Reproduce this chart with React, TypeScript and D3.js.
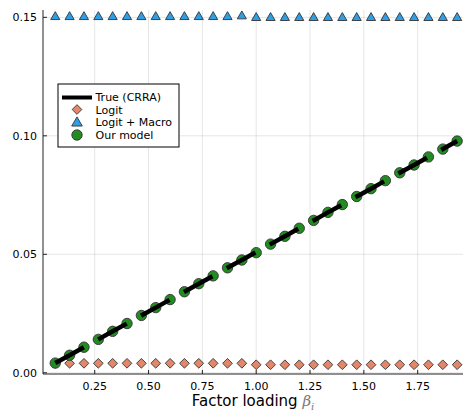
import React from 'react';
import * as d3 from 'd3';

// factor loadings beta_i = k/15, k = 1..29
const betas = [
  0.0667, 0.1333, 0.2, 0.2667, 0.3333, 0.4, 0.4667, 0.5333, 0.6, 0.6667,
  0.7333, 0.8, 0.8667, 0.9333, 1.0, 1.0667, 1.1333, 1.2, 1.2667, 1.3333,
  1.4, 1.4667, 1.5333, 1.6, 1.6667, 1.7333, 1.8, 1.8667, 1.9333,
];

const trueCrra = [
  0.0041, 0.0074, 0.0108, 0.0141, 0.0175, 0.0208, 0.0242, 0.0275, 0.0309, 0.0342,
  0.0376, 0.0409, 0.0443, 0.0476, 0.0509, 0.0543, 0.0576, 0.061, 0.0643, 0.0677,
  0.071, 0.0744, 0.0777, 0.0811, 0.0844, 0.0877, 0.0911, 0.0944, 0.0978,
];

const logit = [
  0.004, 0.004, 0.004, 0.004, 0.004, 0.004, 0.004, 0.004, 0.004, 0.004,
  0.004, 0.004, 0.004, 0.004, 0.0034, 0.0034, 0.0034, 0.0034, 0.0034, 0.0034,
  0.0034, 0.0034, 0.0034, 0.0034, 0.0034, 0.0034, 0.0034, 0.0034, 0.0034,
];

const logitMacro = [
  0.1506, 0.1506, 0.1506, 0.1506, 0.1506, 0.1506, 0.1506, 0.1506, 0.1506, 0.1506,
  0.1506, 0.1506, 0.1506, 0.1509, 0.1502, 0.1502, 0.1502, 0.1502, 0.1502, 0.1502,
  0.1502, 0.1502, 0.1502, 0.1502, 0.1502, 0.1502, 0.1502, 0.1502, 0.1502,
];

const ourModel = [
  0.0041, 0.0074, 0.0108, 0.0141, 0.0175, 0.0208, 0.0242, 0.0275, 0.0309, 0.0342,
  0.0376, 0.0409, 0.0443, 0.0476, 0.0507, 0.0543, 0.0576, 0.061, 0.0643, 0.0677,
  0.071, 0.0744, 0.0777, 0.0811, 0.0844, 0.0877, 0.0911, 0.0944, 0.0978,
];

const xTicks = [0.25, 0.5, 0.75, 1.0, 1.25, 1.5, 1.75];
const yTicks = [0.0, 0.05, 0.1, 0.15];
const legendLabels = ['True (CRRA)', 'Logit', 'Logit + Macro', 'Our model'];

const W = 465;
const H = 412;
const FONT = 'DejaVu Sans, sans-serif';
const C_LOGIT = '#E3876A';
const C_MACRO = '#2E9FE6';
const C_OURS = '#228B22';
const C_EDGE = '#333';

const x = d3.scaleLinear().domain([0.00975, 1.9605]).range([43, 463]);
const y = d3.scaleLinear().domain([-0.00051, 0.1531]).range([374, 10]);

const diamond = d3.symbol(d3.symbolDiamond2, 60)();
const triangle = d3.symbol(d3.symbolTriangle2, 60)();

const App = () => {
  const line = d3.line<number>()
    .x((_, i) => x(betas[i]))
    .y(d => y(d));

  // one step between neighbouring points, along the line
  const seg = Math.hypot(x(betas[1]) - x(betas[0]), y(trueCrra[1]) - y(trueCrra[0]));

  const [x0, x1] = x.range();
  const [yb, yt] = y.range();

  return (
    <svg width={W} height={H} style={{position: 'absolute', left: 0, top: 0}} fontFamily={FONT}>
      <rect width={W} height={H} fill="#fff"/>
      {/* grid */}
      <g stroke="#000" strokeOpacity={0.1} strokeWidth={1}>
        {xTicks.map(t => <line key={t} x1={x(t)} x2={x(t)} y1={yb} y2={yt}/>)}
        {yTicks.map(t => <line key={t} x1={x0} x2={x1} y1={y(t)} y2={y(t)}/>)}
      </g>
      {/* axes */}
      <g stroke="#222" strokeWidth={1}>
        <line x1={x0} x2={x1} y1={yb} y2={yb}/>
        <line x1={x0} x2={x0} y1={yb} y2={yt}/>
        {xTicks.map(t => <line key={t} x1={x(t)} x2={x(t)} y1={yb} y2={yb - 4}/>)}
        {yTicks.map(t => <line key={t} x1={x0} x2={x0 + 4} y1={y(t)} y2={y(t)}/>)}
      </g>
      <g fontSize={11} fill="#000">
        {xTicks.map(t => (
          <text key={t} x={x(t)} y={yb + 15.5} textAnchor="middle">{t.toFixed(2)}</text>
        ))}
        {yTicks.map(t => (
          <text key={t} x={x0 - 6} y={y(t)} dy="0.35em" textAnchor="end">{t.toFixed(2)}</text>
        ))}
      </g>
      <text x={(x0 + x1) / 2} y={406} textAnchor="middle" fontSize={15} fill="#000">
        Factor loading <tspan fontStyle="italic" fill="#777" fontFamily="DejaVu Serif, serif">β</tspan>
        <tspan fontStyle="italic" fill="#777" fontSize={10} dy={4} fontFamily="DejaVu Serif, serif">i</tspan>
      </text>

      {/* series */}
      <g stroke={C_EDGE} strokeWidth={0.9}>
        {logit.map((v, i) => (
          <path key={i} d={diamond} transform={`translate(${x(betas[i])},${y(v)})`} fill={C_LOGIT}/>
        ))}
        {logitMacro.map((v, i) => (
          <path key={i} d={triangle} transform={`translate(${x(betas[i])},${y(v) + 1})`} fill={C_MACRO}/>
        ))}
        {ourModel.map((v, i) => (
          <circle key={i} cx={x(betas[i])} cy={y(v)} r={5.2} fill={C_OURS}/>
        ))}
      </g>
      <path d={line(trueCrra) || ''} fill="none" stroke="#000" strokeWidth={4.5}
            strokeDasharray={`${2 * seg},${seg}`}/>

      {/* legend */}
      <g transform="translate(58,84)">
        <rect width={121} height={63} fill="#fff" stroke="#000" strokeWidth={1}/>
        <line x1={4} x2={34} y1={13.5} y2={13.5} stroke="#000" strokeWidth={4}/>
        <path d={diamond} transform="translate(19,25.5)" fill={C_LOGIT} stroke={C_EDGE} strokeWidth={0.9}/>
        <path d={d3.symbol(d3.symbolTriangle2, 80)() || ''} transform="translate(19,39)" fill={C_MACRO} stroke={C_EDGE} strokeWidth={0.9}/>
        <circle cx={19} cy={51} r={5.2} fill={C_OURS} stroke={C_EDGE} strokeWidth={0.9}/>
        {legendLabels.map((s, i) => (
          <text key={s} x={37.5} y={13.5 + i * 12.4} dy="0.35em" fontSize={11} fill="#000">{s}</text>
        ))}
      </g>
    </svg>
  );
};

export default App;
